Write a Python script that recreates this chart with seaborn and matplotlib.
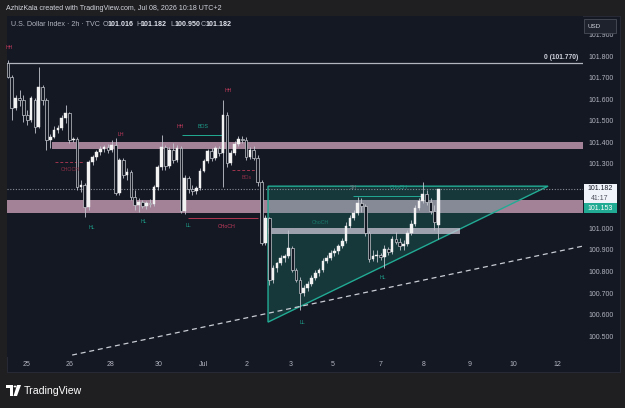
import matplotlib
matplotlib.use("Agg")
import matplotlib.pyplot as plt
from matplotlib.patches import Rectangle, Polygon, Circle
import pandas as pd
import seaborn as sns

# 2h candles, U.S. Dollar Index
opens = [101.768, 101.702, 101.559, 101.605, 101.596, 101.526, 101.503, 101.596, 101.470, 101.656,
         101.596, 101.410, 101.424, 101.456, 101.466, 101.512, 101.535, 101.410, 101.415, 101.192,
         101.201, 101.099, 101.308, 101.331, 101.354, 101.368, 101.377, 101.364, 101.387, 101.164,
         101.317, 101.247, 101.261, 101.145, 101.108, 101.122, 101.104, 101.118, 101.113, 101.192,
         101.285, 101.377, 101.289, 101.364, 101.317, 101.373, 101.080, 101.234, 101.182, 101.173,
         101.187, 101.266, 101.312, 101.359, 101.326, 101.373, 101.350, 101.526, 101.303, 101.350,
         101.391, 101.415, 101.410, 101.331, 101.364, 101.326, 101.215, 100.932, 101.048, 100.760,
         100.816, 100.839, 100.862, 100.871, 100.909, 100.806, 100.760, 100.700, 100.723, 100.741,
         100.769, 100.792, 100.806, 100.848, 100.862, 100.885, 100.895, 100.918, 100.941, 101.011,
         101.048, 101.071, 101.118, 101.104, 100.978, 100.857, 100.871, 100.876, 100.867, 100.904,
         100.890, 100.950, 100.936, 100.918, 100.927, 100.978, 101.020, 101.094, 101.127, 101.159,
         101.122, 101.080, 101.016]
highs = [101.781, 101.712, 101.619, 101.642, 101.619, 101.549, 101.614, 101.605, 101.749, 101.665,
         101.605, 101.438, 101.475, 101.480, 101.526, 101.572, 101.540, 101.424, 101.424, 101.224,
         101.210, 101.317, 101.340, 101.364, 101.382, 101.387, 101.391, 101.410, 101.419, 101.326,
         101.326, 101.280, 101.271, 101.178, 101.141, 101.131, 101.127, 101.136, 101.201, 101.294,
         101.433, 101.387, 101.377, 101.396, 101.387, 101.382, 101.247, 101.243, 101.201, 101.196,
         101.280, 101.322, 101.368, 101.373, 101.382, 101.382, 101.596, 101.540, 101.364, 101.405,
         101.429, 101.429, 101.424, 101.377, 101.382, 101.340, 101.224, 101.062, 101.052, 100.830,
         100.844, 100.876, 100.881, 100.992, 100.918, 100.816, 100.774, 100.737, 100.755, 100.783,
         100.806, 100.816, 100.862, 100.876, 100.899, 100.909, 100.927, 100.955, 101.029, 101.062,
         101.085, 101.145, 101.141, 101.113, 100.988, 100.899, 100.899, 100.885, 100.922, 100.913,
         100.964, 100.983, 100.955, 100.946, 100.992, 101.039, 101.108, 101.141, 101.215, 101.178,
         101.141, 101.108, 101.182]
lows = [101.698, 101.503, 101.549, 101.568, 101.494, 101.480, 101.494, 101.442, 101.466, 101.572,
        101.364, 101.373, 101.419, 101.442, 101.456, 101.489, 101.396, 101.401, 101.178, 101.169,
        101.052, 101.085, 101.294, 101.317, 101.340, 101.354, 101.350, 101.354, 101.155, 101.155,
        101.234, 101.224, 101.131, 101.085, 101.076, 101.094, 101.090, 101.099, 101.104, 101.178,
        101.271, 101.271, 101.280, 101.303, 101.308, 101.071, 101.066, 101.164, 101.155, 101.159,
        101.178, 101.261, 101.303, 101.312, 101.317, 101.336, 101.192, 101.285, 101.294, 101.340,
        101.382, 101.396, 101.317, 101.322, 101.317, 101.196, 100.922, 100.922, 100.737, 100.746,
        100.797, 100.830, 100.844, 100.862, 100.797, 100.751, 100.621, 100.686, 100.709, 100.732,
        100.760, 100.779, 100.797, 100.839, 100.853, 100.871, 100.881, 100.909, 100.932, 101.001,
        101.039, 101.062, 101.076, 100.964, 100.844, 100.848, 100.844, 100.853, 100.816, 100.876,
        100.881, 100.927, 100.899, 100.899, 100.918, 100.969, 101.011, 101.085, 101.118, 101.108,
        101.066, 100.992, 100.950]
closes = [101.702, 101.559, 101.605, 101.596, 101.526, 101.503, 101.605, 101.470, 101.656, 101.596,
          101.410, 101.424, 101.456, 101.466, 101.512, 101.535, 101.410, 101.415, 101.192, 101.201,
          101.099, 101.308, 101.331, 101.354, 101.368, 101.377, 101.364, 101.387, 101.164, 101.317,
          101.247, 101.261, 101.145, 101.108, 101.122, 101.104, 101.118, 101.113, 101.192, 101.285,
          101.377, 101.289, 101.364, 101.317, 101.373, 101.080, 101.234, 101.182, 101.173, 101.187,
          101.266, 101.312, 101.359, 101.326, 101.373, 101.350, 101.526, 101.303, 101.350, 101.391,
          101.415, 101.410, 101.331, 101.364, 101.326, 101.215, 100.932, 101.048, 100.760, 100.816,
          100.839, 100.862, 100.871, 100.909, 100.806, 100.760, 100.700, 100.723, 100.741, 100.769,
          100.792, 100.806, 100.848, 100.862, 100.885, 100.895, 100.918, 100.941, 101.011, 101.048,
          101.071, 101.118, 101.104, 100.978, 100.857, 100.871, 100.876, 100.867, 100.904, 100.890,
          100.950, 100.936, 100.918, 100.927, 100.978, 101.020, 101.094, 101.127, 101.159, 101.122,
          101.080, 101.029, 101.182]

date_labels = ["25", "26", "28", "30", "Jul", "2", "3", "5", "7", "8", "9", "10", "12"]
date_bars = [4.7, 16.1, 26.8, 39.3, 50.8, 62.2, 73.7, 84.4, 96.9, 108.3, 120.1, 131.5, 143.0]
price_ticks = [100.5, 100.6, 100.7, 100.8, 100.9, 101.0, 101.1, 101.2, 101.3, 101.4,
               101.5, 101.6, 101.7, 101.8, 101.9]

# drawn levels / zones
fib_zero = 101.770
last_price = 101.182
upper_zone = (101.368, 101.401, 11.5)      # low, high, start bar
lower_zone = (101.071, 101.131, -1.0)
inner_zone = (100.972, 101.000, 67.7, 117.7)
triangle_bars = (67.7, 140.6)
triangle_prices = (100.565, 101.196)
trend_bars = [16.7, 149.7]
trend_prices = [100.412, 100.918]

# market structure labels
struct_text = ["HH", "LH", "HH", "BOS", "HH", "CHOCH", "HL", "HL", "LL", "CHoCH", "BOs", "LL", "HL", "SH", "CHoCH", "ChoCH"]
struct_bar = [0.3, 29.4, 44.8, 50.8, 57.3, 16.1, 21.9, 35.4, 46.9, 57.0, 62.2, 76.6, 97.7, 89.8, 101.6, 81.3]
struct_price = [101.842, 101.438, 101.475, 101.475, 101.638, 101.275, 101.006, 101.034, 101.015, 101.011,
                101.238, 100.565, 100.774, 101.192, 101.192, 101.029]
struct_kind = ["bear", "bear", "bear", "bull", "bear", "bear_dim", "bull", "bull", "bull", "bear",
               "bear_dim", "bull", "bull", "neutral", "bull", "bull_dim"]

BG = "#141823"
OUTER = "#1f1f22"
TXT = "#b2b5be"
TEAL = "#22ab94"
kind_color = {"bear": "#c23a5c", "bear_dim": "#8e2f47", "bull": "#1f9e8b",
              "bull_dim": "#1a7a6d", "neutral": "#6f7480"}

sns.set_theme(style="dark")
plt.rcParams["font.family"] = ["Liberation Sans", "DejaVu Sans"]

W, H = 625, 408
fig = plt.figure(figsize=(W / 100, H / 100), dpi=100, facecolor=OUTER)


def fx(x):
    return x / W


def fy(y):
    return 1 - y / H


# chart panel
fig.add_artist(Rectangle((fx(7), fy(372)), fx(613), 356 / H, transform=fig.transFigure,
                         facecolor=BG, edgecolor="#2a2e39", lw=0.6, zorder=-5))

ax = fig.add_axes([fx(7), fy(357), fx(576), 341 / H])
ax.set_facecolor(BG)

df = pd.DataFrame({"open": opens, "high": highs, "low": lows, "close": closes})
df["bar"] = range(len(df))
up = df["close"] >= df["open"]

# zones
for lo, hi, start in [upper_zone, lower_zone]:
    ax.add_patch(Rectangle((start, lo), 160, hi - lo, facecolor="#c49ab3", alpha=0.82, lw=0, zorder=1))
ax.add_patch(Polygon([(triangle_bars[0], triangle_prices[1]), (triangle_bars[0], triangle_prices[0]),
                      (triangle_bars[1], triangle_prices[1])], closed=True,
                     facecolor=(0.13, 0.67, 0.58, 0.22), edgecolor=TEAL, lw=1.0, zorder=2))
ax.add_patch(Rectangle((inner_zone[2], inner_zone[0]), inner_zone[3] - inner_zone[2],
                       inner_zone[1] - inner_zone[0], facecolor="#d3c9da", alpha=0.72, lw=0, zorder=2))

# levels
ax.axhline(fib_zero, color="#b2b5be", lw=0.9, zorder=2)
ax.text(148.4, fib_zero + 0.006, "0 (101.770)", ha="right", va="bottom", color="#d1d4dc",
        fontsize=4.8, fontweight="bold", zorder=5)
ax.axhline(last_price, color="#8a8e99", lw=0.8, ls=(0, (1, 1.5)), zorder=2)
sns.lineplot(x=trend_bars, y=trend_prices, ax=ax, color="#c9ccd3", lw=0.9,
             linestyle=(0, (4, 3)), zorder=2)

# structure lines
ax.hlines(101.433, 45.3, 55.7, color=TEAL, lw=0.7, zorder=2)
ax.hlines(101.048, 46.9, 65.1, color="#b03752", lw=0.7, zorder=2)
ax.hlines(101.308, 12.2, 19.5, color="#a0344e", lw=0.7, ls=(0, (3, 2)), zorder=2)
ax.hlines(101.271, 58.3, 64.3, color="#a0344e", lw=0.7, ls=(0, (3, 2)), zorder=2)
ax.hlines(101.150, 89.8, 108.1, color=TEAL, lw=0.7, zorder=2)

# candles
ax.vlines(df["bar"], df["low"], df["high"], color="#c3c6ce", lw=0.6, zorder=3)
body_up = (df["close"] - df["open"]).where(up).clip(lower=0.002)
body_dn = (df["open"] - df["close"]).where(~up).clip(lower=0.002)
ax.bar(df["bar"][up], body_up[up], bottom=df["open"][up], width=0.7,
       color="#f2f2f2", edgecolor="#f2f2f2", lw=0.3, zorder=4)
ax.bar(df["bar"][~up], body_dn[~up], bottom=df["close"][~up], width=0.7,
       color=BG, edgecolor="#c8cad0", lw=0.5, zorder=4)

for t, b, p, k in zip(struct_text, struct_bar, struct_price, struct_kind):
    ax.text(b, p, t, ha="center", va="center", color=kind_color[k], fontsize=3.8, zorder=5)

ax.set_xlim(-0.26, 149.7)
ax.set_ylim(100.403, 101.986)
ax.set_xticks(date_bars)
ax.set_xticklabels(date_labels)
ax.yaxis.tick_right()
ax.set_yticks(price_ticks)
# 101.200 sits under the last-price badge
ax.set_yticklabels(["" if abs(v - 101.2) < 1e-9 else f"{v:.3f}" for v in price_ticks])
ax.tick_params(axis="both", colors=TXT, labelsize=5.0, length=0)
ax.tick_params(axis="y", pad=4)
ax.tick_params(axis="x", pad=3)
ax.grid(False)
for s in ax.spines.values():
    s.set_visible(False)
ax.set_xlabel("")
ax.set_ylabel("")

# price scale badges
fig.add_artist(Rectangle((fx(584), fy(33)), fx(32), 14 / H, transform=fig.transFigure,
                         facecolor="#1e222d", edgecolor="#4a4e59", lw=0.6, zorder=6))
fig.text(fx(588), fy(26), "USD", color="#d1d4dc", fontsize=4.5, va="center", zorder=7)
fig.add_artist(Rectangle((fx(584), fy(203)), fx(33), 19 / H, transform=fig.transFigure,
                         facecolor="#f0f3fa", lw=0, zorder=6))
fig.text(fx(600), fy(188.5), f"{last_price:.3f}", color="#131722", fontsize=5.0, ha="center", va="center", zorder=7)
fig.text(fx(600), fy(198), "41:17", color="#50535e", fontsize=5.0, ha="center", va="center", zorder=7)
fig.add_artist(Rectangle((fx(584), fy(213)), fx(33), 10 / H, transform=fig.transFigure,
                         facecolor=TEAL, lw=0, zorder=6))
fig.text(fx(600), fy(208), "101.153", color="white", fontsize=5.0, ha="center", va="center", zorder=7)

# header texts
fig.text(fx(6), fy(8), "AzhizKala created with TradingView.com, Jul 08, 2026 10:18 UTC+2",
         color="#d1d4dc", fontsize=5.1, va="center")
fig.text(fx(11), fy(25), "U.S. Dollar Index \u00b7 2h \u00b7 TVC", color=TXT, fontsize=5.1, va="center")
ohlc = [("O", "101.016", 103), ("H", "101.182", 136), ("L", "100.950", 170), ("C", "101.182", 201)]
for k, v, x in ohlc:
    fig.text(fx(x), fy(25), k, color=TXT, fontsize=5.1, va="center")
    fig.text(fx(x + 4.5), fy(25), v, color="#e0e3eb", fontsize=5.1, va="center", fontweight="bold")

# TradingView logo
logo = dict(transform=fig.transFigure, facecolor="white", lw=0, zorder=6)
fig.add_artist(Polygon([(fx(6), fy(385)), (fx(13), fy(385)), (fx(13), fy(396)), (fx(10), fy(396)),
                        (fx(10), fy(388)), (fx(6), fy(388))], **logo))
fig.add_artist(Polygon([(fx(17), fy(385)), (fx(21), fy(385)), (fx(17), fy(396)), (fx(13.5), fy(396))], **logo))
fig.add_artist(Circle((fx(15), fy(386.5)), 1.4 / W, **logo))
fig.text(fx(24), fy(390.5), "TradingView", color="white", fontsize=7.6, va="center")

fig.savefig("out.png", dpi=100, facecolor=OUTER)
